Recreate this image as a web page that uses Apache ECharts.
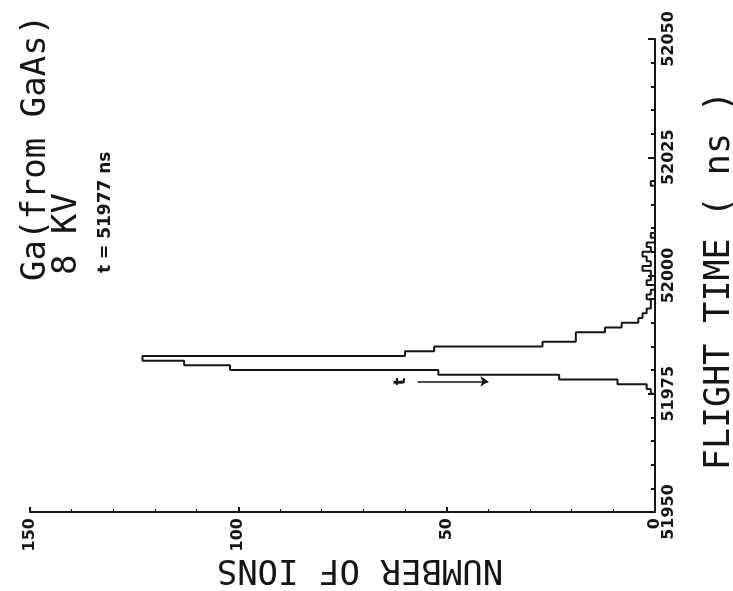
<!DOCTYPE html>
<html>
<head>
<meta charset="utf-8">
<script src="https://cdn.jsdelivr.net/npm/echarts@6/dist/echarts.min.js"></script>
<style>
  html, body { margin: 0; padding: 0; background: #fff; }
  #main { width: 733px; height: 591px; }
</style>
</head>
<body>
<div id="main"></div>
<script>
// flight time bins (ns, 1 ns wide, start of bin) and ion counts
var binStart = [51974, 51975, 51976, 51977, 51978, 51979, 51980, 51981, 51982, 51983,
                51984, 51985, 51986, 51987, 51988, 51989, 51990, 51991, 51992, 51993,
                51994, 51995, 51996, 51997, 51998, 51999, 52000, 52001, 52002, 52003,
                52004, 52005, 52006, 52007, 52008, 52009, 52010, 52011, 52012, 52013,
                52014, 52015, 52016, 52017, 52018, 52019, 52020];
var ionCount = [0, 1, 2, 9, 23, 52, 102, 113, 123, 60,
                53, 27, 19, 19, 12, 8, 4, 3, 2, 1,
                1, 2, 1, 0, 2, 1, 1, 3, 1, 2,
                3, 1, 2, 0, 1, 0, 0, 0, 0, 0,
                0, 0, 0, 0, 0, 1, 0];
var binWidth = 1;

var timeTicks = [51950, 51975, 52000, 52025, 52050];
var countTicks = [0, 50, 100, 150];

var titleLines = ['Ga(from GaAs)', '8 KV'];
var peakNote = 't = 51977 ns';
var countName = 'NUMBER OF IONS';
var tArrow = { from: 57, to: 40, at: 51977.6, labelAt: 61 };

var ink = '#151515';
var plotFont = 'DejaVu Sans Mono';
var tickFont = 'DejaVu Sans';

// outline of the histogram: each bin gives two points (count, start) and (count, end)
var outline = [];
binStart.forEach(function (t, i) {
  outline.push([ionCount[i], t]);
  outline.push([ionCount[i], t + binWidth]);
});

var chart = echarts.init(document.getElementById('main'));

var option = {
  backgroundColor: '#fff',
  animation: false,
  grid: { left: 30, right: 78, top: 39, bottom: 79, containLabel: false, outerBoundsMode: 'none' },
  xAxis: {
    type: 'value',
    inverse: true,
    min: countTicks[0],
    max: countTicks[countTicks.length - 1],
    interval: 50,
    position: 'bottom',
    axisLine: { show: true, lineStyle: { color: ink, width: 2 } },
    axisTick: { show: true, inside: true, length: 5, lineStyle: { color: ink, width: 2 } },
    minorTick: { show: true, splitNumber: 5, length: 3, lineStyle: { color: ink, width: 1 } },
    splitLine: { show: false },
    axisLabel: {
      rotate: 90, margin: 6, color: ink,
      fontFamily: tickFont, fontWeight: 'bold', fontSize: 16
    }
  },
  yAxis: {
    type: 'value',
    position: 'right',
    min: timeTicks[0],
    max: timeTicks[timeTicks.length - 1],
    interval: 25,
    axisLine: { show: true, lineStyle: { color: ink, width: 2 } },
    axisTick: { show: true, inside: true, length: 7, lineStyle: { color: ink, width: 2 } },
    minorTick: { show: true, splitNumber: 5, length: 4, lineStyle: { color: ink, width: 2 } },
    splitLine: { show: false },
    axisLabel: {
      rotate: 90, margin: 6, color: ink,
      fontFamily: tickFont, fontWeight: 'bold', fontSize: 16,
      formatter: function (v) { return String(v); }
    },
    name: 'FLIGHT TIME ( ns )',
    nameLocation: 'middle',
    nameRotate: 90,
    nameGap: 47,
    nameTextStyle: { fontFamily: plotFont, fontSize: 35, color: ink, padding: [0, 10, 0, 0] }
  },
  series: [
    {
      type: 'line',
      data: outline,
      showSymbol: false,
      symbol: 'none',
      lineStyle: { color: ink, width: 2 },
      silent: true,
      markLine: {
        silent: true,
        symbol: ['none', 'arrow'],
        symbolSize: 8,
        label: { show: false },
        lineStyle: { type: 'solid', color: ink, width: 1.5 },
        data: [[{ coord: [tArrow.from, tArrow.at] }, { coord: [tArrow.to, tArrow.at] }]]
      },
      markPoint: {
        silent: true,
        symbol: 'circle',
        symbolSize: 1,
        itemStyle: { color: 'rgba(0,0,0,0)' },
        label: {
          show: true, formatter: 't', rotate: 90, color: ink,
          fontFamily: tickFont, fontWeight: 'bold', fontSize: 16
        },
        data: [{ coord: [tArrow.labelAt, tArrow.at] }]
      }
    }
  ],
  graphic: [
    {
      type: 'text', x: 36, y: 281, rotation: Math.PI / 2,
      style: { text: titleLines[0], fill: ink, font: '34px "' + plotFont + '"',
               textAlign: 'left', textVerticalAlign: 'middle' }
    },
    {
      type: 'text', x: 67, y: 275, rotation: Math.PI / 2,
      style: { text: titleLines[1], fill: ink, font: '34px "' + plotFont + '"',
               textAlign: 'left', textVerticalAlign: 'middle' }
    },
    {
      type: 'text', x: 106, y: 273, rotation: Math.PI / 2,
      style: { text: peakNote, fill: ink, font: 'bold 17px "' + tickFont + '"',
               textAlign: 'left', textVerticalAlign: 'middle' }
    },
    {
      // count-axis title, upside down as in the original plot
      type: 'text', x: 360, y: 569, rotation: Math.PI,
      style: { text: countName, fill: ink, font: '34px "' + plotFont + '"',
               textAlign: 'center', textVerticalAlign: 'middle' }
    }
  ]
};

chart.setOption(option);
</script>
</body>
</html>
